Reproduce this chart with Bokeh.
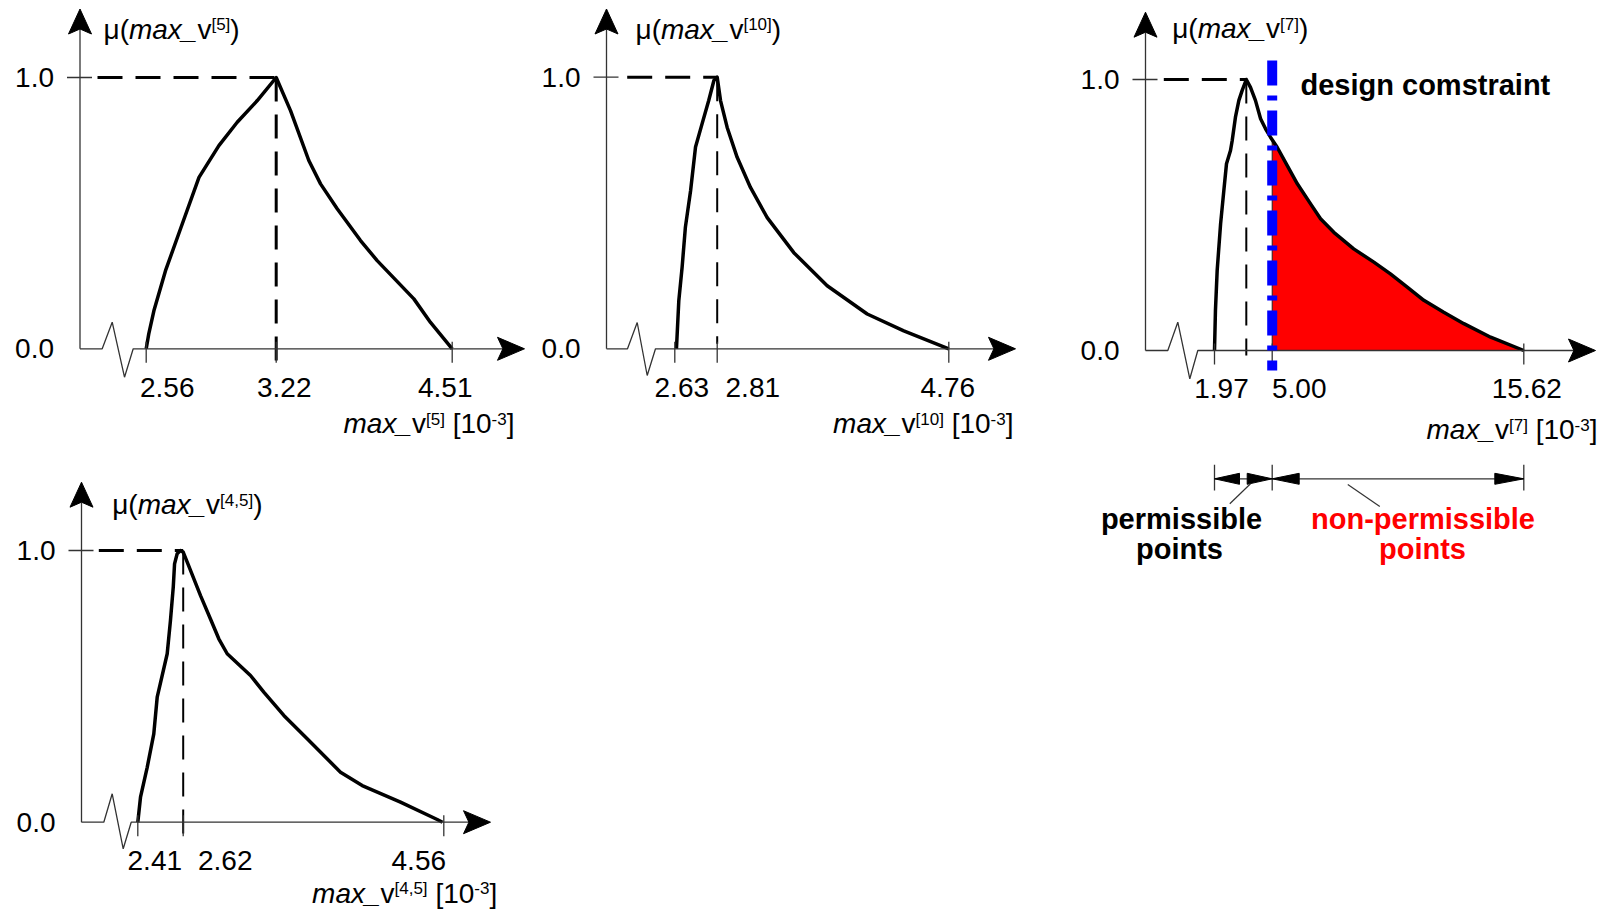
import numpy as np
from bokeh.plotting import figure
from bokeh.layouts import row, column
from bokeh.models import Range1d
from bokeh.core.properties import value
from bokeh.embed import file_html
from bokeh.resources import INLINE

# ---------------- data ----------------
var_names = ["5", "10", "7", "4,5"]
mu_tick_values = [0.0, 1.0]

p1_ticks = [2.56, 3.22, 4.51]
p1_peak = 3.22
p1_x = [2.56, 2.573, 2.599, 2.658, 2.737, 2.828, 2.929, 3.022, 3.124, 3.22,
        3.325, 3.459, 3.545, 3.667, 3.838, 3.960, 4.229, 4.351, 4.51]
p1_mu = [0.0, 0.055, 0.140, 0.288, 0.448, 0.632, 0.749, 0.835, 0.915, 1.0,
         0.878, 0.694, 0.608, 0.516, 0.399, 0.325, 0.184, 0.097, 0.0]

p2_ticks = [2.63, 2.81, 4.76]
p2_peak = 2.81
p2_x = [2.637, 2.647, 2.661, 2.675, 2.697, 2.718, 2.746, 2.774, 2.796, 2.81,
        2.838, 2.894, 2.978, 3.090, 3.231, 3.455, 3.736, 4.073, 4.381, 4.76]
p2_mu = [0.0, 0.177, 0.300, 0.448, 0.582, 0.743, 0.829, 0.914, 0.988, 1.0,
         0.914, 0.815, 0.705, 0.594, 0.483, 0.354, 0.232, 0.128, 0.066, 0.0]

p3_ticks = [1.97, 5.00, 15.62]
p3_peak = 3.64
p3_constraint = 5.00
p3_x = [1.97, 2.02, 2.11, 2.29, 2.46, 2.60, 2.81, 2.90, 3.07, 3.25, 3.42, 3.64,
        3.86, 4.12, 4.39, 4.65, 4.91, 5.21, 5.63, 6.06, 6.62, 7.04, 7.60, 8.44,
        9.29, 9.99, 10.70, 11.40, 12.24, 13.09, 14.22, 15.62]
p3_mu = [0.0, 0.148, 0.295, 0.467, 0.590, 0.689, 0.738, 0.775, 0.861, 0.923, 0.959, 1.0,
         0.971, 0.923, 0.855, 0.818, 0.787, 0.750, 0.683, 0.615, 0.541, 0.486, 0.436, 0.375,
         0.326, 0.283, 0.234, 0.185, 0.141, 0.099, 0.049, 0.0]

p4_ticks = [2.41, 2.62, 4.56]
p4_peak = 2.62
p4_x = [2.41, 2.4225, 2.4535, 2.484, 2.4997, 2.546, 2.561, 2.574, 2.580, 2.592, 2.6075, 2.62,
        2.650, 2.749, 2.823, 2.885, 2.9475, 3.121, 3.220, 3.369, 3.543, 3.791, 3.9525,
        4.2376, 4.511, 4.55]
p4_mu = [0.0, 0.092, 0.202, 0.325, 0.460, 0.620, 0.742, 0.865, 0.951, 0.988, 1.0, 0.994,
         0.957, 0.834, 0.748, 0.675, 0.620, 0.540, 0.479, 0.393, 0.307, 0.184, 0.135,
         0.074, 0.010, 0.0]

constraint_text = "design comstraint"
perm_text = ["permissible", "points"]
nonperm_text = ["non-permissible", "points"]

# ---------------- layout / style ----------------
FONT = "Liberation Sans"
AX = "#333333"
SIZE = 28
SUP = 17
RAISE = 9
BOLD = 29
BASE_FIX = 0.38   # renderer places "alphabetic" text this fraction of the size low

P1 = dict(fx=0, fy=0, w=528, h=468, ax_x=79.5, ax_y=348.3, one_y=77.0,
          tick_px=[145.7, 275.7, 451.7], tick_dx=[21, 8, -7], tip_x=524, tip_y=8.5,
          zig=[(101.7, 0), (111.7, -26.6), (124.0, 28.4), (132.7, 0)],
          hdash_x0=97, vdash_w=3, vdash_end=15, mu_label_x=103, mu_base=39.5,
          ax_label_right=514, ax_label_base=434)
P2 = dict(fx=528, fy=0, w=520, h=468, ax_x=606, ax_y=348.3, one_y=76.7,
          tick_px=[674.3, 716.7, 948.3], tick_dx=[7, 35.6, -1], tip_x=1015, tip_y=8.5,
          zig=[(627, 0), (636.7, -26.3), (646.7, 26.7), (655, 0)],
          hdash_x0=626.7, vdash_w=2, vdash_end=-5, mu_label_x=635, mu_base=39.5,
          ax_label_right=1013, ax_label_base=434)
P3 = dict(fx=1048, fy=0, w=552, h=590, ax_x=1145, ax_y=350, one_y=79,
          tick_px=[1214, 1271.7, 1523.3], tick_dx=[7, 27, 3], tip_x=1595, tip_y=11.7,
          zig=[(1167.3, 0), (1177.3, -28.3), (1189.3, 28.3), (1197.3, 0)],
          hdash_x0=1163.3, vdash_w=2, vdash_end=5, mu_label_x=1171.7, mu_base=39,
          ax_label_right=1597, ax_label_base=440)
P4 = dict(fx=0, fy=468, w=528, h=447, ax_x=81, ax_y=821.7, one_y=550,
          tick_px=[137.3, 182.7, 443.3], tick_dx=[17, 42, -25], tip_x=490, tip_y=481.7,
          zig=[(103.3, 0), (111.7, -28.4), (122.7, 26.6), (130.7, 0)],
          hdash_x0=98.3, vdash_w=2, vdash_end=15, mu_label_x=111.7, mu_base=515,
          ax_label_right=496.7, ax_label_base=903.3)

WIDTH = {" ": 278, "(": 333, ")": 333, "[": 278, "]": 278, ",": 278, "-": 333, ".": 278,
         "μ": 576, "m": 833, "a": 556, "x": 500, "_": 556, "v": 500}


def text_width(s, size):
    return sum(WIDTH.get(c, 556) for c in s) * size / 1000.0


def head(p, ym, tx, tY, direction, L, W, notch=0.8):
    if direction == "up":
        xs = [tx, tx + W / 2, tx, tx - W / 2]
        Ys = [tY, tY + L, tY + notch * L, tY + L]
    elif direction == "right":
        xs = [tx, tx - L, tx - notch * L, tx - L]
        Ys = [tY, tY - W / 2, tY, tY + W / 2]
    else:
        xs = [tx, tx + L, tx + notch * L, tx + L]
        Ys = [tY, tY - W / 2, tY, tY + W / 2]
    p.patch(xs, [ym(Y) for Y in Ys], fill_color="black", line_color="black", line_width=1)


def txt(p, ym, xs, Ys, texts, size, style="normal", align="left", color="black"):
    p.text(x=list(xs), y=[ym(Y - BASE_FIX * size) for Y in Ys], text=list(texts),
           text_font=value(FONT), text_font_size=value(f"{size}px"),
           text_font_style=value(style), text_baseline=value("alphabetic"),
           text_align=value(align), text_color=color)


def rich(p, ym, x, Y, pieces, align="left"):
    total = sum(text_width(t, s) for t, st, s, r in pieces)
    if align == "right":
        x -= total
    for t, st, s, r in pieces:
        lead = len(t) - len(t.lstrip(" "))
        x += text_width(" " * lead, s)
        t = t.lstrip(" ")
        txt(p, ym, [x], [Y - r], [t], s, st)
        x += text_width(t, s)


def panel(P, ticks, xs, mus, peak, name, constraint=None):
    k = P["ax_y"] - P["one_y"]

    def ym(Y):
        return (P["ax_y"] - Y) / k

    def xp(v):
        return np.interp(v, ticks, P["tick_px"])

    p = figure(width=P["w"], height=P["h"],
               x_range=Range1d(P["fx"], P["fx"] + P["w"]),
               y_range=Range1d(ym(P["fy"] + P["h"]), ym(P["fy"])),
               output_backend="svg", toolbar_location=None,
               x_axis_type=None, y_axis_type=None, min_border=0,
               outline_line_color=None, background_fill_color="white",
               border_fill_color="white")
    ax_x, ax_y = P["ax_x"], P["ax_y"]
    xs = np.array(xs, dtype=float)
    mus = np.array(mus, dtype=float)

    # red non-permissible area
    if constraint is not None:
        m_c = float(np.interp(constraint, xs, mus))
        sel = xs > constraint
        px = [xp(constraint), xp(constraint)] + list(xp(xs[sel]))
        py = [0.0, m_c] + list(mus[sel])
        p.patch(px, py, fill_color="#ff0000", line_color="#222222", line_width=1)

    # dashed guide lines to the peak
    pk = float(xp(peak))
    p.line([P["hdash_x0"], pk], [1.0, 1.0], line_color="black", line_width=3,
           line_dash="25 13", line_cap="butt")
    p.line([pk, pk], [1.0, ym(ax_y + P["vdash_end"])], line_color="black",
           line_width=P["vdash_w"], line_dash="24 13", line_cap="butt")

    # membership curve
    p.line(xp(xs), mus, line_color="black", line_width=3.5, line_join="round")

    # y axis
    p.line([ax_x, ax_x], [0.0, ym(P["tip_y"] + 20)], line_color=AX, line_width=1.3)
    head(p, ym, ax_x, P["tip_y"], "up", 25, 23)
    # x axis with break
    zx = [ax_x] + [z[0] for z in P["zig"]] + [P["tip_x"] - 20]
    zy = [0.0] + [ym(ax_y + z[1]) for z in P["zig"]] + [0.0]
    p.line(zx, zy, line_color=AX, line_width=1.3)
    head(p, ym, P["tip_x"], ax_y, "right", 27, 23)

    # ticks
    for v in ticks:
        t = float(xp(v))
        p.line([t, t], [ym(ax_y - 7), ym(ax_y + 14)], line_color=AX, line_width=1.3)
    p.line([ax_x - 13, ax_x + 12], [1.0, 1.0], line_color=AX, line_width=1.3)

    # tick labels
    txt(p, ym, [float(xp(v)) + d for v, d in zip(ticks, P["tick_dx"])],
        [ax_y + 49] * len(ticks), [f"{v:.2f}" for v in ticks], SIZE, align="center")
    txt(p, ym, [ax_x - 26] * len(mu_tick_values),
        [ax_y - m * k + 10.5 for m in mu_tick_values],
        [f"{m:.1f}" for m in mu_tick_values], SIZE, align="right")

    # axis titles
    rich(p, ym, P["mu_label_x"], P["mu_base"],
         [("μ(", "normal", SIZE, 0), ("max_", "italic", SIZE, 0), ("v", "normal", SIZE, 0),
          (f"[{name}]", "normal", SUP, RAISE), (")", "normal", SIZE, 0)])
    rich(p, ym, P["ax_label_right"], P["ax_label_base"],
         [("max_", "italic", SIZE, 0), ("v", "normal", SIZE, 0), (f"[{name}]", "normal", SUP, RAISE),
          (" [10", "normal", SIZE, 0), ("-3", "normal", SUP, RAISE), ("]", "normal", SIZE, 0)],
         align="right")
    return p, xp, ym


p1, _, _ = panel(P1, p1_ticks, p1_x, p1_mu, p1_peak, var_names[0])
p2, _, _ = panel(P2, p2_ticks, p2_x, p2_mu, p2_peak, var_names[1])
p3, xp3, ym3 = panel(P3, p3_ticks, p3_x, p3_mu, p3_peak, var_names[2], constraint=p3_constraint)
p4, _, _ = panel(P4, p4_ticks, p4_x, p4_mu, p4_peak, var_names[3])

# design constraint (blue dash-dot line) and its label
xc = float(xp3(p3_constraint))
p3.line([xc, xc], [ym3(60), ym3(370)], line_color="#0000ff", line_width=10,
        line_dash="25 10 5 10", line_cap="butt")
txt(p3, ym3, [1300], [95.7], [constraint_text], BOLD, style="bold")

# dimension lines below panel 3
x_a, x_b, x_c = [float(xp3(v)) for v in p3_ticks]
DIM_Y = 478.3
p3.line([x_a, x_c], [ym3(DIM_Y)] * 2, line_color=AX, line_width=1.3)
for xx in (x_a, x_b, x_c):
    p3.line([xx, xx], [ym3(464.3), ym3(490)], line_color=AX, line_width=1.3)
head(p3, ym3, x_a, DIM_Y, "left", 25, 11, 1.0)
head(p3, ym3, x_b, DIM_Y, "right", 25, 11, 1.0)
head(p3, ym3, x_b, DIM_Y, "left", 27, 11, 1.0)
head(p3, ym3, x_c, DIM_Y, "right", 29, 11, 1.0)
p3.line([1229.3, 1250], [ym3(503.3), ym3(483.3)], line_color=AX, line_width=1.2)
p3.line([1347.3, 1379.3], [ym3(484), ym3(506)], line_color=AX, line_width=1.2)

txt(p3, ym3, [1181, 1179], [530, 559.3], perm_text, BOLD, style="bold", align="center")
txt(p3, ym3, [1422.5, 1422], [530, 559.3], nonperm_text, BOLD, style="bold",
    align="center", color="#ff0000")

layout = row(column(p1, p4), p2, p3)
open("out.html", "w").write(file_html(layout, INLINE))
